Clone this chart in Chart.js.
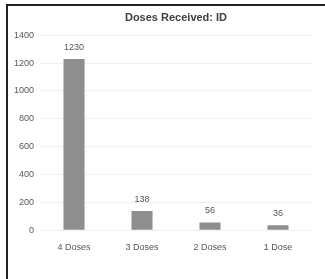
<!DOCTYPE html>
<html>
<head>
<meta charset="utf-8">
<script src="https://cdn.jsdelivr.net/npm/chart.js@4"></script>
<style>
  html, body { margin: 0; padding: 0; background: #fff; }
  .frame {
    position: absolute; left: 6px; top: 4px; width: 330px; height: 290px;
    border-left: 2px solid #222; border-top: 2px solid #222;
  }
  .box { position: absolute; left: 8px; top: 6px; width: 317px; height: 273px; }
</style>
</head>
<body>
<div class="frame"></div>
<div class="box"><canvas id="barChart"></canvas></div>
<script>
const categories = ['4 Doses', '3 Doses', '2 Doses', '1 Dose'];
const doses = [1230, 138, 56, 36];
const yTicks = [0, 200, 400, 600, 800, 1000, 1200, 1400];

// draw value labels above each bar
const valueLabels = {
    id: 'valueLabels',
    afterDatasetsDraw(chart) {
        const ctx = chart.ctx;
        const meta = chart.getDatasetMeta(0);
        ctx.save();
        ctx.fillStyle = '#555';
        ctx.font = '9px "Liberation Sans Narrow", "Liberation Sans", sans-serif';
        ctx.textAlign = 'center';
        ctx.textBaseline = 'bottom';
        meta.data.forEach((bar, i) => {
            ctx.fillText(doses[i], bar.x, bar.y - 7);
        });
        ctx.restore();
    }
};

const ctx = document.getElementById('barChart');
new Chart(ctx, {
    type: 'bar',
    data: {
        labels: categories,
        datasets: [{
            data: doses,
            backgroundColor: '#8e8e8e',
            barPercentage: 0.62,
            categoryPercentage: 0.5
        }]
    },
    options: {
        responsive: true,
        maintainAspectRatio: false,
        animation: false,
        layout: { padding: { left: 0, right: 13, top: 0, bottom: 14 } },
        plugins: {
            legend: { display: false },
            tooltip: { enabled: false },
            title: {
                display: true,
                fullSize: false,
                text: 'Doses Received: ID',
                color: '#404040',
                font: { family: '"Liberation Sans", sans-serif', size: 11, weight: 'bold' },
                padding: { top: 5, bottom: 11 }
            }
        },
        scales: {
            x: {
                grid: { display: false, drawTicks: false },
                border: { display: false },
                ticks: {
                    color: '#555',
                    font: { family: '"Liberation Sans Narrow", "Liberation Sans", sans-serif', size: 9 },
                    padding: 12
                }
            },
            y: {
                min: 0,
                max: 1400,
                afterBuildTicks(axis) { axis.ticks = yTicks.map(v => ({ value: v })); },
                grid: { color: '#f0f0f0', drawTicks: false },
                border: { display: false },
                ticks: {
                    color: '#555',
                    font: { family: '"Liberation Sans Narrow", "Liberation Sans", sans-serif', size: 9 },
                    padding: 6,
                    callback: v => String(v)
                }
            }
        }
    },
    plugins: [valueLabels]
});
</script>
</body>
</html>
